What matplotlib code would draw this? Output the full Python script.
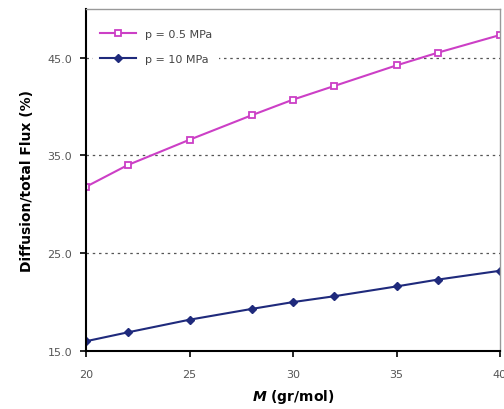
import matplotlib.pyplot as plt

M = [20, 22, 25, 28, 30, 32, 35, 37, 40]
flux_low = [31.8, 34.0, 36.6, 39.1, 40.7, 42.1, 44.2, 45.5, 47.3]  # p = 0.5 MPa
flux_high = [16.0, 16.9, 18.2, 19.3, 20.0, 20.6, 21.6, 22.3, 23.2]  # p = 10 MPa
yticks = [15, 25, 35, 45]
xticks = [20, 25, 30, 35, 40]

plt.rcParams['mathtext.fontset'] = 'custom'
plt.rcParams['mathtext.it'] = 'DejaVu Sans:italic:bold'

fig = plt.figure(figsize=(5.04, 4.10), dpi=100)
ax = fig.add_axes([0.171, 0.1415, 0.821, 0.835])

ax.plot(M, flux_low, color='#cc3fc6', lw=1.5, marker='s', ms=4.5,
        mfc='white', mec='#cc3fc6', mew=1.3, label='p = 0.5 MPa')
ax.plot(M, flux_high, color='#1f2a7c', lw=1.5, marker='D', ms=4,
        mfc='#1f2a7c', mec='#1f2a7c', label='p = 10 MPa')

ax.set_xlim(20, 40)
ax.set_ylim(15, 50)
ax.set_xticks(xticks)
ax.set_yticks(yticks)
ax.set_yticklabels(['%.1f' % v for v in yticks])
for v in yticks[1:]:
    ax.axhline(v, color='#555555', ls=(0, (2, 3)), lw=0.9, zorder=0)

ax.tick_params(axis='both', direction='out', length=4, width=1.2,
               labelsize=8, labelcolor='#555555', pad=6)
ax.tick_params(axis='x', pad=9)
for s in ['left', 'bottom']:
    ax.spines[s].set_linewidth(1.5)
    ax.spines[s].set_color('black')
for s in ['top', 'right']:
    ax.spines[s].set_linewidth(1.0)
    ax.spines[s].set_color('#999999')

ax.set_ylabel('Diffusion/total Flux (%)', fontsize=10, fontweight='bold', labelpad=10)
ax.set_xlabel(r'$M$ (gr/mol)', fontsize=10, fontweight='bold', labelpad=6)

leg = ax.legend(loc='upper left', bbox_to_anchor=(0, 0.98), frameon=True,
                fontsize=8, labelcolor='#444444', handlelength=3.3,
                borderaxespad=0.6, labelspacing=1.4, fancybox=False,
                framealpha=1, borderpad=0.6)
leg.get_frame().set_facecolor('white')
leg.get_frame().set_edgecolor('none')

fig.savefig('out.png')
